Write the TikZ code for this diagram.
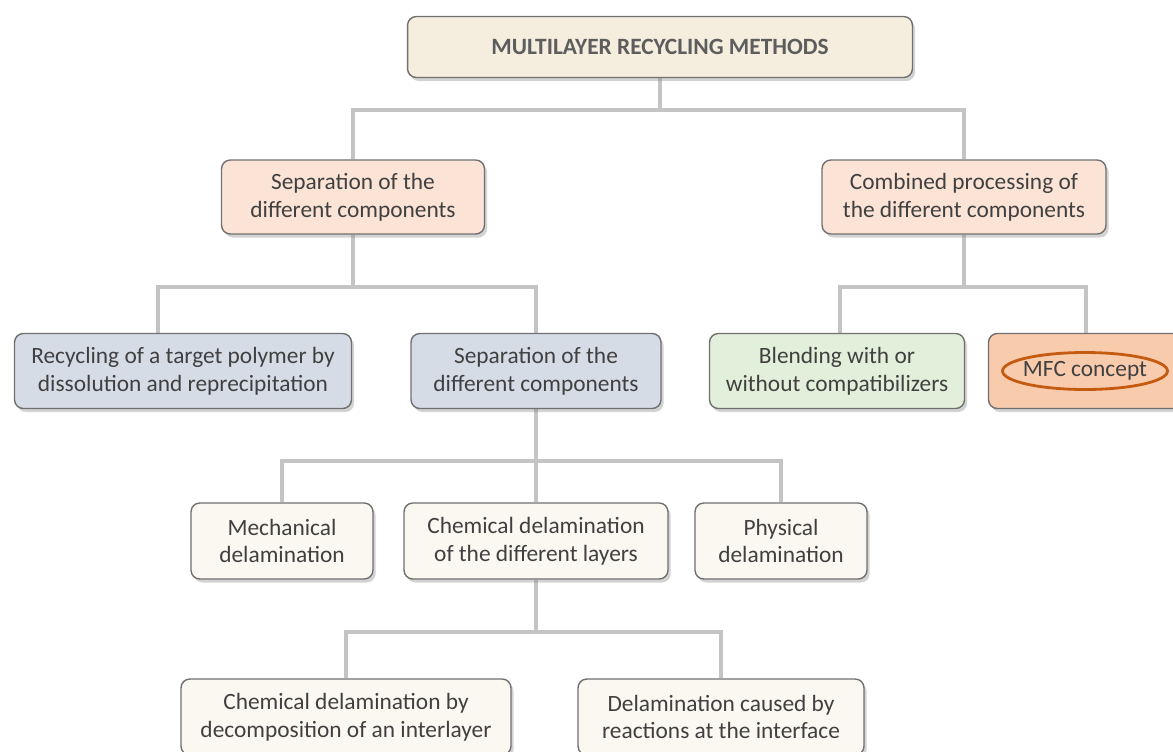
\documentclass[tikz,border=0pt]{standalone}
\usepackage{fontspec}
\setmainfont{Carlito}
\usetikzlibrary{shadows,backgrounds}
\definecolor{txt}{HTML}{404040}
\definecolor{boxline}{HTML}{707070}
\definecolor{linkgray}{HTML}{C4C4C4}
\definecolor{topfill}{HTML}{F5EDDE}
\definecolor{peach}{HTML}{FBE4D6}
\definecolor{bluegray}{HTML}{D6DCE5}
\definecolor{lightgreen}{HTML}{E2EFDA}
\definecolor{orangefill}{HTML}{F8CBAD}
\definecolor{cream}{HTML}{FBF8F1}
\definecolor{ringcol}{HTML}{C55A11}
\tikzset{
   box/.style={draw=boxline,line width=0.8pt,rounded corners=5pt,align=center,
     text=txt,font=\fontsize{13.3}{15.8}\selectfont,minimum height=1.5cm,
     drop shadow={shadow xshift=1.5pt,shadow yshift=-2pt,opacity=0.35}},
   link/.style={draw=linkgray,line width=2.6pt}
}

\begin{document}
\begin{tikzpicture}[x=0.02cm,y=-0.02cm]
   \useasboundingbox (0,0) rectangle (1173,751);
   % boxes
   \node[box,fill=topfill,minimum width=10.1cm,minimum height=1.22cm,
     font=\fontsize{13.3}{15}\selectfont\bfseries,text=txt!85] (top) at (660,47)
     {MULTILAYER RECYCLING METHODS};
   \node[box,fill=peach,minimum width=5.26cm,minimum height=1.48cm] (sepA) at (353,197)
     {Separation of the\\different components};
   \node[box,fill=peach,minimum width=5.68cm,minimum height=1.48cm] (comb) at (964,197)
     {Combined processing of\\the different components};
   \node[box,fill=bluegray,minimum width=6.74cm] (recyc) at (183,371)
     {Recycling of a target polymer by\\dissolution and reprecipitation};
   \node[box,fill=bluegray,minimum width=5.0cm] (sepB) at (536,371)
     {Separation of the\\different components};
   \node[box,fill=lightgreen,minimum width=5.1cm] (blend) at (837,371)
     {Blending with or\\without compatibilizers};
   \node[box,fill=orangefill,minimum width=3.9cm] (mfc) at (1086,371) {};
   \node[text=txt,font=\fontsize{13.3}{15.8}\selectfont] (ring) at (1085,371) {MFC concept};
   \draw[ringcol,line width=1.6pt] (ring.center) ellipse [x radius=1.65cm,y radius=0.37cm];
   \node[box,fill=cream,minimum width=3.64cm,minimum height=1.52cm] (mech) at (282,541)
     {Mechanical\\delamination};
   \node[box,fill=cream,minimum width=5.28cm,minimum height=1.52cm] (chem) at (536,541)
     {Chemical delamination\\of the different layers};
   \node[box,fill=cream,minimum width=3.44cm,minimum height=1.52cm] (phys) at (781,541)
     {Physical\\delamination};
   \node[box,fill=cream,minimum width=6.6cm,minimum height=1.52cm] (decomp) at (346,717)
     {Chemical delamination by\\decomposition of an interlayer};
   \node[box,fill=cream,minimum width=5.72cm,minimum height=1.52cm] (react) at (721,717)
     {Delamination caused by\\reactions at the interface};
   % connectors behind the boxes
   \coordinate (c1) at (660,110);
   \coordinate (c2) at (353,287);
   \coordinate (c3) at (964,287);
   \coordinate (c4) at (536,461);
   \coordinate (c5) at (536,632);
   \begin{scope}[on background layer]
   \draw[link] (top.south) -- (c1);
   \draw[link] (sepA.north) |- (c1) -| (comb.north);
   \draw[link] (sepA.south) -- (c2);
   \draw[link] ([xshift=-0.5cm]recyc.north) |- (c2) -| (sepB.north);
   \draw[link] (comb.south) -- (c3);
   \draw[link] ([xshift=0.06cm]blend.north) |- (c3) -| (mfc.north);
   \draw[link] (sepB.south) -- (chem.north);
   \draw[link] (mech.north) |- (c4) -| (phys.north);
   \draw[link] (chem.south) -- (c5);
   \draw[link] (decomp.north) |- (c5) -| (react.north);
   \end{scope}
\end{tikzpicture}
\end{document}
